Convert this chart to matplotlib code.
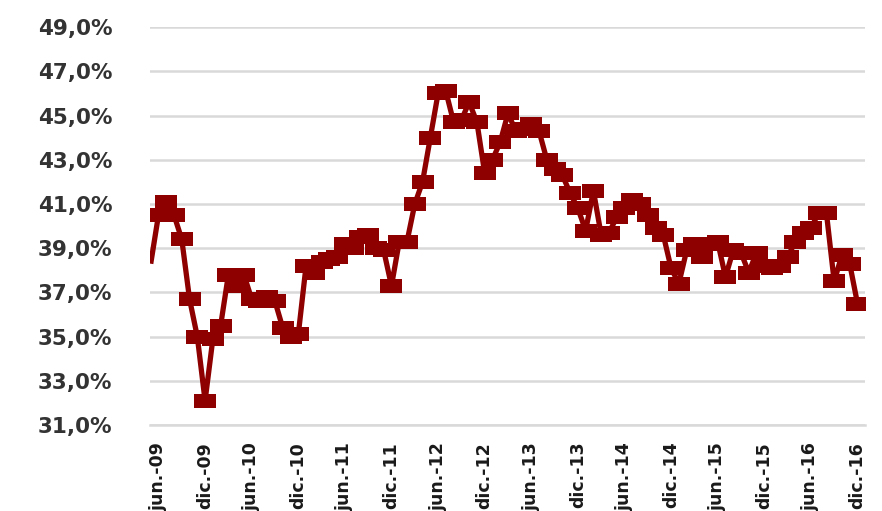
import matplotlib
matplotlib.use("Agg")
import matplotlib.pyplot as plt
from matplotlib.ticker import FuncFormatter

# Monthly series, may-09 .. dic-16 (percent)
values = [
    38.3, 40.5, 41.1, 40.5, 39.4, 36.7, 35.0, 32.1, 34.9, 35.5,
    37.8, 37.3, 37.8, 36.7, 36.6, 36.8, 36.6, 35.4, 35.0, 35.1,
    38.2, 37.9, 38.4, 38.5, 38.6, 39.2, 39.0, 39.5, 39.6, 39.0,
    38.9, 37.3, 39.3, 39.3, 41.0, 42.0, 44.0, 46.0, 46.1, 44.7,
    44.8, 45.6, 44.7, 42.4, 43.0, 43.8, 45.1, 44.3, 44.4, 44.6,
    44.3, 43.0, 42.6, 42.3, 41.5, 40.8, 39.8, 41.6, 39.6, 39.7,
    40.4, 40.8, 41.2, 41.0, 40.5, 39.9, 39.6, 38.1, 37.4, 38.9,
    39.2, 38.6, 39.2, 39.3, 37.7, 38.9, 38.8, 37.9, 38.8, 38.2,
    38.1, 38.2, 38.6, 39.3, 39.7, 39.9, 40.6, 40.6, 37.5, 38.7,
    38.3, 36.5,
]
tick_labels = ["jun.-09", "dic.-09", "jun.-10", "dic.-10", "jun.-11", "dic.-11",
               "jun.-12", "dic.-12", "jun.-13", "dic.-13", "jun.-14", "dic.-14",
               "jun.-15", "dic.-15", "jun.-16", "dic.-16"]
y_ticks = [31, 33, 35, 37, 39, 41, 43, 45, 47, 49]

x = list(range(len(values)))
tick_pos = [1 + 6 * k for k in range(len(tick_labels))]

fig = plt.figure(figsize=(8.82, 5.11), dpi=100)
ax = fig.add_axes([0.170, 0.168, 0.811, 0.779])

rect = [(-1, -0.62), (1, -0.62), (1, 0.62), (-1, 0.62), (-1, -0.62)]
ax.plot(x, values, color="#8E0000", lw=3.8, marker=rect, markersize=16.5,
        markeredgewidth=0, markevery=list(range(1, len(values))),
        solid_joinstyle="round", solid_capstyle="butt", zorder=3)

ax.set_ylim(31, 49)
ax.set_yticks(y_ticks)
ax.yaxis.set_major_formatter(FuncFormatter(lambda v, p: f"{v:.1f}".replace(".", ",") + "%"))
ax.set_xlim(-0.1, 92.0)
ax.set_xticks(tick_pos)
ax.set_xticklabels(tick_labels, rotation=90, fontsize=12.5, fontweight="bold",
                   color="#1A1A1A")
for lab in ax.get_yticklabels():
    lab.set_fontsize(15.5)
    lab.set_fontweight("bold")
    lab.set_color("#333333")

ax.grid(axis="y", color="#D9D9D9", lw=1.8)
ax.set_axisbelow(True)
for s in ["top", "right", "left"]:
    ax.spines[s].set_visible(False)
ax.spines["bottom"].set_color("#D9D9D9")
ax.spines["bottom"].set_linewidth(1.8)
ax.tick_params(axis="both", length=0)
ax.tick_params(axis="y", pad=27)
ax.tick_params(axis="x", pad=12)

fig.savefig("out.png", dpi=100)
